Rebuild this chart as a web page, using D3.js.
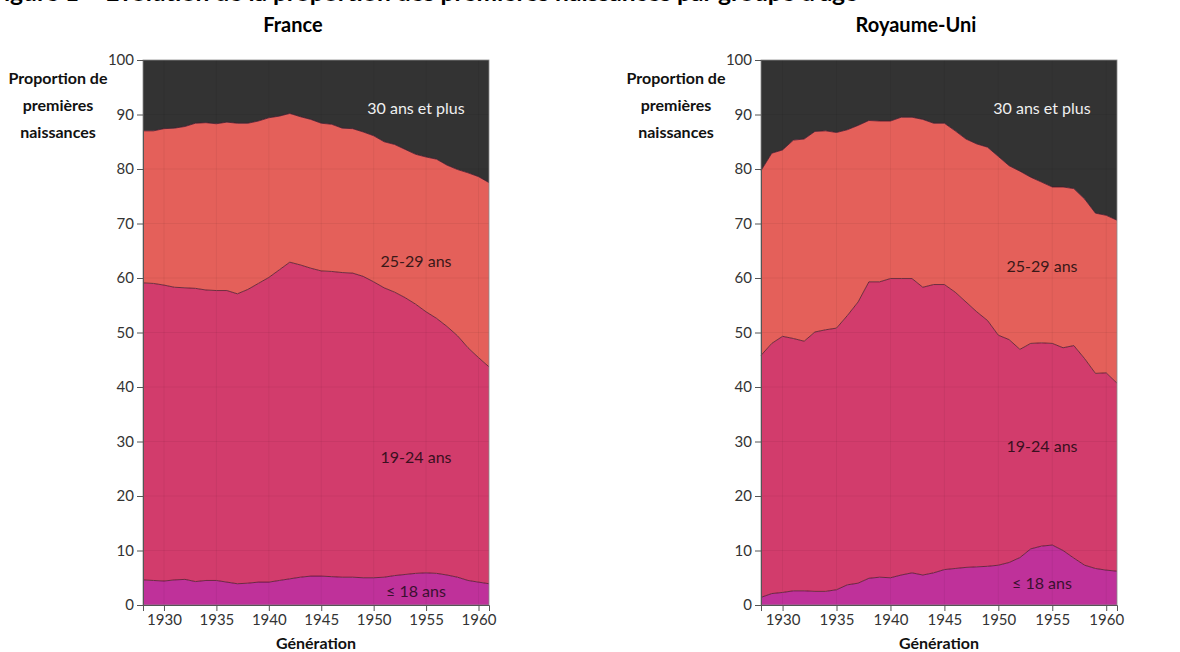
<!DOCTYPE html>
<html><head><meta charset="utf-8">
<script src="https://cdn.jsdelivr.net/npm/d3@7"></script>
<style>
html,body{margin:0;padding:0;background:#fff;}
svg{display:block;font-family:Lato,"Open Sans",sans-serif;}
</style></head>
<body>
<svg id="chart" width="1180" height="652"></svg>
<script>
const years = [1928,1929,1930,1931,1932,1933,1934,1935,1936,1937,1938,1939,1940,1941,1942,1943,1944,1945,1946,1947,1948,1949,1950,1951,1952,1953,1954,1955,1956,1957,1958,1959,1960,1961];
const groups = ["≤ 18 ans","19-24 ans","25-29 ans","30 ans et plus"];

// France — share of first births by mother's age group (%)
const frA18   = [4.6,4.5,4.4,4.6,4.7,4.3,4.5,4.5,4.2,3.9,4.0,4.2,4.2,4.5,4.8,5.1,5.3,5.3,5.2,5.1,5.1,5.0,5.0,5.1,5.4,5.6,5.8,5.9,5.8,5.5,5.1,4.5,4.2,3.9];
const frA1924 = [54.5,54.5,54.3,53.7,53.5,53.8,53.3,53.2,53.5,53.2,53.9,54.8,55.9,57.0,58.1,57.3,56.5,56.0,56.0,55.9,55.8,55.3,54.3,53.1,52.0,50.8,49.4,47.9,46.8,45.6,44.3,42.7,41.2,39.8];
const frA2529 = [27.9,28.0,28.7,29.2,29.6,30.3,30.7,30.6,30.9,31.3,30.5,29.8,29.3,28.2,27.3,27.2,27.3,27.1,27.0,26.5,26.5,26.5,26.8,26.8,27.1,27.2,27.5,28.4,29.2,29.6,30.5,32.1,33.2,33.8];
const frA30   = [13.0,13.0,12.6,12.5,12.2,11.6,11.5,11.7,11.4,11.6,11.6,11.2,10.6,10.3,9.8,10.4,10.9,11.6,11.8,12.5,12.6,13.2,13.9,15.0,15.5,16.4,17.3,17.8,18.2,19.3,20.1,20.7,21.4,22.5];

// Royaume-Uni
const ukA18   = [1.4,2.1,2.3,2.6,2.6,2.5,2.5,2.8,3.7,4.0,4.9,5.1,5.0,5.5,5.9,5.5,5.9,6.5,6.7,6.9,7.0,7.1,7.3,7.8,8.7,10.3,10.8,11.0,10.0,8.6,7.3,6.7,6.4,6.2];
const ukA1924 = [44.4,45.9,47.0,46.3,45.8,47.6,48.0,48.0,49.4,51.6,54.4,54.2,54.9,54.4,54.0,52.8,52.9,52.3,50.7,48.7,46.8,45.1,42.2,40.9,38.2,37.7,37.3,37.0,37.2,39.0,37.9,35.8,36.2,34.5];
const ukA2529 = [33.9,34.9,34.2,36.4,37.1,36.8,36.5,35.9,34.1,32.4,29.6,29.5,28.9,29.6,29.6,30.8,29.6,29.6,29.6,29.9,30.8,31.8,32.8,31.9,32.7,30.5,29.5,28.7,29.5,28.8,29.3,29.4,28.9,29.9];
const ukA30   = [20.3,17.1,16.5,14.7,14.5,13.1,13.0,13.3,12.8,12.0,11.1,11.2,11.2,10.5,10.5,10.9,11.6,11.6,13.0,14.5,15.4,16.0,17.7,19.4,20.4,21.5,22.4,23.3,23.3,23.6,25.5,28.1,28.5,29.4];

const yTicks = [0,10,20,30,40,50,60,70,80,90,100];
const xTicks = [1930,1935,1940,1945,1950,1955,1960];
const colors = ["#bf319a","#d23c6c","#e4605a","#333333"];
const labelColors = ["#3a1030","#3a1020","#3a1818","#f0f0f0"];

const panels = [
  {title:"France", series:[frA18,frA1924,frA2529,frA30], x0:143, x1:489,
   labelX:416, labelY:[597,463,267,114]},
  {title:"Royaume-Uni", series:[ukA18,ukA1924,ukA2529,ukA30], x0:761, x1:1117,
   labelX:1042, labelY:[589,452,272,114]}
];
const plotTop = 60, plotBottom = 605;

const svg = d3.select("#chart");

// figure caption, cropped at the top edge as in the source image
svg.append("text").attr("x",-10).attr("y",0.5)
  .attr("font-weight","bold").attr("font-size",22).attr("fill","#000")
  .attr("textLength",868).attr("lengthAdjust","spacingAndGlyphs")
  .text("Figure 1 – Évolution de la proportion des premières naissances par groupe d'âge");

panels.forEach(p => {
  const rows = years.map((yr,i) => {
    const o = {year: yr};
    groups.forEach((g,k) => o[g] = p.series[k][i]);
    return o;
  });
  const stacked = d3.stack().keys(groups)(rows);
  const x = d3.scaleLinear().domain([1928,1961]).range([p.x0,p.x1]);
  const y = d3.scaleLinear().domain([0,100]).range([plotBottom,plotTop]);
  const g = svg.append("g");

  stacked.forEach((layer,k) => {
    const area = d3.area().x((d,i)=>x(years[i])).y0(d=>y(d[0]))
      .y1(d => k === groups.length-1 ? y(100) : y(d[1]));
    g.append("path").datum(layer).attr("d",area).attr("fill",colors[k]);
  });

  // faint grid
  g.selectAll(".gy").data(yTicks.slice(1,-1)).join("line")
    .attr("x1",p.x0).attr("x2",p.x1).attr("y1",d=>y(d)).attr("y2",d=>y(d))
    .attr("stroke","#000").attr("stroke-opacity",0.05).attr("stroke-width",1);
  g.selectAll(".gx").data(xTicks).join("line")
    .attr("x1",d=>x(d)).attr("x2",d=>x(d)).attr("y1",plotTop).attr("y2",plotBottom)
    .attr("stroke","#000").attr("stroke-opacity",0.05).attr("stroke-width",1);

  // boundary lines
  stacked.slice(0,3).forEach(layer => {
    const line = d3.line().x((d,i)=>x(years[i])).y(d=>y(d[1]));
    g.append("path").datum(layer).attr("d",line).attr("fill","none")
      .attr("stroke","#4a1428").attr("stroke-width",0.9).attr("stroke-opacity",0.85);
  });

  // frame
  g.append("rect").attr("x",p.x0).attr("y",plotTop).attr("width",p.x1-p.x0).attr("height",plotBottom-plotTop)
    .attr("fill","none").attr("stroke","#8a8a8a").attr("stroke-width",0.8);

  // axes
  const ya = g.append("g").attr("transform",`translate(${p.x0},0)`)
    .call(d3.axisLeft(y).tickValues(yTicks).tickSize(6).tickPadding(3));
  const xa = g.append("g").attr("transform",`translate(0,${plotBottom})`)
    .call(d3.axisBottom(x).tickValues(xTicks).tickFormat(d3.format("d")).tickSize(6).tickPadding(3));
  [ya,xa].forEach(a => {
    a.select(".domain").attr("stroke","#555");
    a.selectAll(".tick line").attr("stroke","#555");
    a.selectAll("text").attr("font-size",15).attr("fill","#333")
      .attr("font-family","Lato,'Open Sans',sans-serif");
  });

  groups.forEach((name,k) => {
    g.append("text").attr("x",p.labelX).attr("y",p.labelY[k])
      .attr("text-anchor","middle").attr("font-size",16).attr("fill",labelColors[k])
      .text(name);
  });

  const cx = (p.x0+p.x1)/2;
  g.append("text").attr("x",cx-23).attr("y",32).attr("text-anchor","middle")
    .attr("font-weight","bold").attr("font-size",20).attr("fill","#000").text(p.title);
  g.append("text").attr("x",cx).attr("y",649).attr("text-anchor","middle")
    .attr("font-weight","bold").attr("font-size",16).attr("fill","#111").text("Génération");

  const yt = g.append("text").attr("text-anchor","middle").attr("font-weight","bold")
    .attr("font-size",16).attr("fill","#111");
  ["Proportion de","premières","naissances"].forEach((t,i) => {
    yt.append("tspan").attr("x",p.x0-85).attr("y",84+i*27).text(t);
  });
});
</script>
</body></html>
